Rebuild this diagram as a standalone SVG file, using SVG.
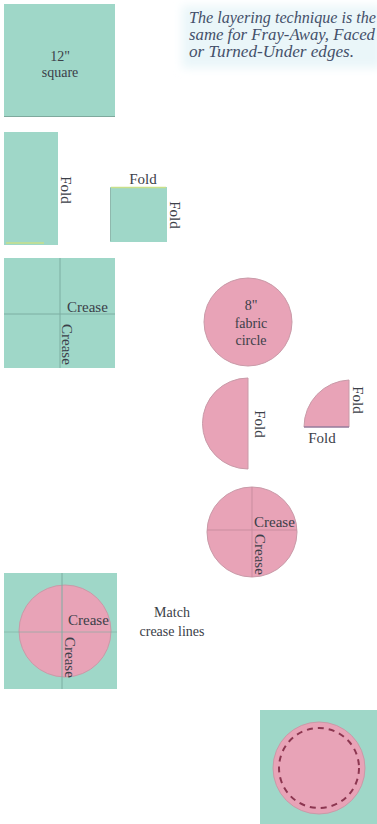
<svg xmlns="http://www.w3.org/2000/svg" width="377" height="824" viewBox="0 0 377 824">
<defs>
<style>
.teal{fill:#9fd7c8;}
.pink{fill:#e8a3b7;stroke:#c99aa8;stroke-width:1;}
.crease{stroke:#7daea2;stroke-width:1;fill:none;}
.creasep{stroke:#c98d9f;stroke-width:1;fill:none;}
.lbl{font-family:"Liberation Serif","Times New Roman",serif;font-size:15px;fill:#3b4048;}
.sm{font-family:"Liberation Serif","Times New Roman",serif;font-size:14px;fill:#3b4048;}
.note{font-family:"Liberation Serif","Times New Roman",serif;font-size:16px;font-style:italic;fill:#44506a;}
</style>
<filter id="blur" x="-10%" y="-20%" width="120%" height="140%"><feGaussianBlur stdDeviation="5"/></filter>
</defs>
<rect width="377" height="824" fill="#ffffff"/>

<g id="note">
<rect x="182" y="6" width="200" height="62" fill="#eaf6f9" filter="url(#blur)"/>
<text class="note" x="189" y="23" textLength="187" lengthAdjust="spacingAndGlyphs">The layering technique is the</text>
<text class="note" x="189" y="40" textLength="186" lengthAdjust="spacingAndGlyphs">same for Fray-Away, Faced</text>
<text class="note" x="189" y="57" textLength="165" lengthAdjust="spacingAndGlyphs">or Turned-Under edges.</text>
</g>

<g id="square12">
<rect class="teal" x="4" y="4" width="111" height="113"/>
<line x1="4" y1="116.5" x2="115" y2="116.5" stroke="#7ea99d" stroke-width="1"/>
<text class="sm" x="60" y="61" text-anchor="middle">12"</text>
<text class="sm" x="60" y="77" text-anchor="middle">square</text>
</g>

<g id="folded-half">
<rect class="teal" x="4" y="132" width="54" height="113"/>
<line x1="6" y1="243" x2="44" y2="243" stroke="#c9e08a" stroke-width="1.5"/>
<text class="lbl" transform="translate(61,190) rotate(90)" text-anchor="middle">Fold</text>
</g>

<g id="folded-quarter">
<rect class="teal" x="110" y="187" width="57" height="55"/>
<line x1="111" y1="187.5" x2="166" y2="187.5" stroke="#c9e08a" stroke-width="1.5"/>
<line x1="110.5" y1="188" x2="110.5" y2="241" stroke="#8fb8ad" stroke-width="1"/>
<text class="lbl" x="143" y="184" text-anchor="middle">Fold</text>
<text class="lbl" transform="translate(170,215) rotate(90)" text-anchor="middle">Fold</text>
</g>

<g id="creased-square">
<rect class="teal" x="4" y="258" width="111" height="110"/>
<line class="crease" x1="60" y1="258" x2="60" y2="368"/>
<line class="crease" x1="4" y1="314" x2="115" y2="314"/>
<text class="lbl" x="67" y="312">Crease</text>
<text class="lbl" transform="translate(62,324) rotate(90)">Crease</text>
</g>

<g id="fabric-circle">
<circle class="pink" cx="248" cy="322" r="44"/>
<text class="sm" x="251" y="310" text-anchor="middle">8"</text>
<text class="sm" x="251" y="328" text-anchor="middle">fabric</text>
<text class="sm" x="251" y="345" text-anchor="middle">circle</text>
</g>

<g id="half-circle">
<path class="pink" d="M248,378 A45.5,45.5 0 0 0 248,469 Z"/>
<text class="lbl" transform="translate(255,424) rotate(90)" text-anchor="middle">Fold</text>
</g>

<g id="quarter-circle">
<path class="pink" d="M349,427 L349,380 A47,47 0 0 0 304,427 Z"/>
<line x1="304" y1="427" x2="349" y2="427" stroke="#7a6a95" stroke-width="1"/>
<text class="lbl" transform="translate(353,400) rotate(90)" text-anchor="middle">Fold</text>
<text class="lbl" x="322" y="443" text-anchor="middle">Fold</text>
</g>

<g id="creased-circle">
<circle class="pink" cx="252" cy="532" r="45"/>
<line class="creasep" x1="252" y1="487" x2="252" y2="577"/>
<line class="creasep" x1="207" y1="530" x2="297" y2="530"/>
<text class="lbl" x="254" y="527">Crease</text>
<text class="lbl" transform="translate(255,534) rotate(90)">Crease</text>
</g>

<g id="matched-square">
<rect class="teal" x="4" y="573" width="113" height="116"/>
<circle class="pink" cx="65" cy="631" r="46"/>
<line class="crease" x1="62" y1="573" x2="62" y2="689" stroke="#8a9a98"/>
<line class="crease" x1="4" y1="632" x2="117" y2="632" stroke-opacity="0.6"/>
<text class="lbl" x="68" y="625">Crease</text>
<text class="lbl" transform="translate(65,637) rotate(90)">Crease</text>
</g>

<g id="match-label">
<text class="sm" x="172" y="617" text-anchor="middle">Match</text>
<text class="sm" x="172" y="636" text-anchor="middle">crease lines</text>
</g>

<g id="stitched-square">
<rect class="teal" x="260" y="710" width="117" height="114"/>
<circle class="pink" cx="319" cy="768" r="46"/>
<circle cx="319" cy="768" r="40" fill="none" stroke="#8c3650" stroke-width="2" stroke-dasharray="6 5"/>
</g>

<g id="connectors"></g>
</svg>
